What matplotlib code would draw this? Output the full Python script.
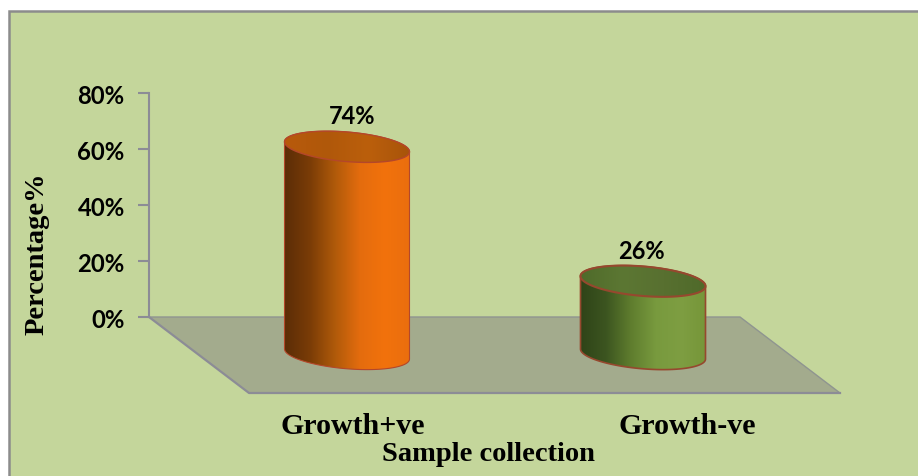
import numpy as np
import matplotlib
matplotlib.use('Agg')
import matplotlib.pyplot as plt
from matplotlib.colors import LinearSegmentedColormap
from matplotlib.patches import Polygon, Rectangle

# data
categories = ['Growth+ve', 'Growth-ve']
values = [74, 26]
value_labels = ['74%', '26%']
yticks = [0, 20, 40, 60, 80]

W, H = 918, 477
PX_Y = 2.8      # pixels per percent
PX_X = 296.0    # pixels between the two categories
X0 = 347        # pixel of first category
Y0 = 318        # pixel of 0%

fig = plt.figure(figsize=(W / 100, H / 100), dpi=100, facecolor='white')
ax = fig.add_axes([0, 0, 1, 1], facecolor='white')
ax.set_xlim((0 - X0) / PX_X, (W - X0) / PX_X)
ax.set_ylim((Y0 - H) / PX_Y, Y0 / PX_Y)

def dx(px):
    return px / PX_X

def dy(px):
    return px / PX_Y

# panel background
ax.add_patch(Rectangle((ax.get_xlim()[0] + dx(9.5), ax.get_ylim()[0] - 1), dx(W), dy(H - 12) + 1,
                       fc='#c4d69b', ec='#8c8c8c', lw=1.8, zorder=0))

# floor
xl = dx(149 - X0)
xr = dx(740 - X0)
depth = dy(76)
shift = dx(100)
ax.add_patch(Polygon([(xl, 0), (xr, 0), (xr + shift, -depth), (xl + shift, -depth)],
                     fc='#a3ab8d', ec='none', zorder=1))
ax.plot([xl, xr, xr + shift], [0, 0, -depth], color='#8f9590', lw=1, zorder=1.1)
ax.plot([xl, xl + shift, xr + shift], [0, -depth, -depth], color='#8c8c96', lw=1.6, zorder=1.1)

# axis
for s in ['top', 'right', 'bottom']:
    ax.spines[s].set_visible(False)
ax.spines['left'].set_position(('data', xl))
ax.spines['left'].set_bounds(0, 80)
ax.spines['left'].set_color('#8c8c96')
ax.spines['left'].set_linewidth(1.5)
ax.set_xticks([])
ax.set_yticks(yticks)
ax.set_yticklabels([f'{t}%' for t in yticks], fontsize=17.2, fontweight='bold', family='Lato')
ax.tick_params(axis='y', length=8, width=1.5, color='#8c8c96', pad=9.5)

half_w = dx(62.5)
base = -dy(37)
slope = -dy(5) / half_w   # left end of the ellipse sits higher
b = dy(14.8)
t = np.linspace(0, 2 * np.pi, 200)
t_half = np.linspace(0, np.pi, 100)

body_cmaps = [
    LinearSegmentedColormap.from_list('o', ['#5c2d07', '#7a3c06', '#b05a0a', '#e46c0e', '#f2720c', '#ea6e0e']),
    LinearSegmentedColormap.from_list('g', ['#2f4418', '#3c5520', '#5f7d2e', '#789a3e', '#7e9e42', '#769639']),
]
top_cmaps = [
    LinearSegmentedColormap.from_list('ot', ['#b85a0c', '#b0580a', '#bb5f0c', '#a8540a']),
    LinearSegmentedColormap.from_list('gt', ['#4f6b2a', '#5c7733', '#587030', '#4f6a2a']),
]
edges = ['#b4472a', '#96482e']
edge_w = [1.0, 1.5]

for i, v in enumerate(values):
    ex = half_w * np.cos(t)
    ey = slope * ex + b * np.sin(t)
    top = base + v

    # side of the cylinder: lower half of the base, upper half of the top ellipse
    xs = i + half_w * np.cos(t_half)
    tilt = slope * half_w * np.cos(t_half)
    body_pts = np.vstack([
        np.column_stack([xs, base + tilt - b * np.sin(t_half)]),
        np.column_stack([xs[::-1], (top + tilt + b * np.sin(t_half))[::-1]]),
    ])
    body = Polygon(body_pts, closed=True, fc='none', ec=edges[i], lw=edge_w[i] * 0.8, zorder=3.2)
    ax.add_patch(body)
    grad = np.linspace(0, 1, 256).reshape(1, -1)
    im = ax.imshow(grad, cmap=body_cmaps[i], aspect='auto', zorder=3,
                   extent=[i - half_w, i + half_w, base - 2 * b, top + 2 * b])
    im.set_clip_path(body)

    cap = Polygon(np.column_stack([i + ex, top + ey]), closed=True, fc='none',
                  ec=edges[i], lw=edge_w[i], zorder=3.6)
    ax.add_patch(cap)
    im2 = ax.imshow(grad, cmap=top_cmaps[i], aspect='auto', zorder=3.4,
                    extent=[i - half_w, i + half_w, top - 2 * b, top + 2 * b])
    im2.set_clip_path(cap)

    # value label
    ax.text(i + dx([5, -2][i]), top + dy(31), value_labels[i], ha='center', va='center',
            fontsize=17, fontweight='bold', family='Lato', color='black', zorder=5)

# keep limits after imshow
ax.set_xlim((0 - X0) / PX_X, (W - X0) / PX_X)
ax.set_ylim((Y0 - H) / PX_Y, Y0 / PX_Y)

# category labels
cat_px = [353, 687]
for c, px in zip(categories, cat_px):
    ax.text((px - X0) / PX_X, (Y0 - 426.5) / PX_Y, c, ha='center', va='center',
            fontsize=21.5, fontweight='bold', family='Liberation Serif', color='black')

ax.text((488 - X0) / PX_X, (Y0 - 455) / PX_Y, 'Sample collection', ha='center', va='center',
        fontsize=20.5, fontweight='bold', family='Liberation Serif', color='black')
ax.text((37 - X0) / PX_X, (Y0 - 254) / PX_Y, 'Percentage%', ha='center', va='center', rotation=90,
        fontsize=20.5, fontweight='bold', family='Liberation Serif', color='black')

fig.savefig('out.png', dpi=100, facecolor='white')
